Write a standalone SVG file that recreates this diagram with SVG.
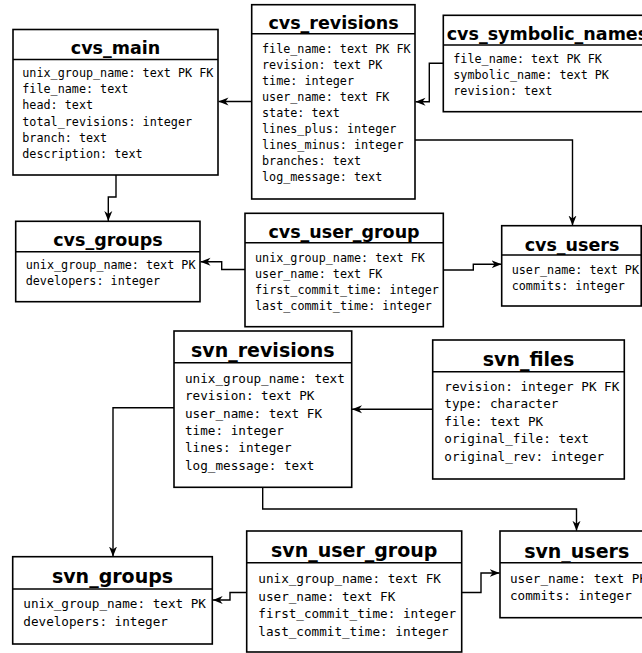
<svg xmlns="http://www.w3.org/2000/svg" width="642" height="653" viewBox="0 0 642 653">
<defs>
<style>
.box{fill:#fff;stroke:#000;stroke-width:1.6}
.sep{stroke:#000;stroke-width:1.4}
.t1{font-family:"DejaVu Sans",sans-serif;font-weight:bold;font-size:17.5px;text-anchor:middle;fill:#000}
.t2{font-family:"DejaVu Sans",sans-serif;font-weight:bold;font-size:19px;text-anchor:middle;fill:#000}
.f1{font-family:"DejaVu Sans Mono",monospace;font-size:11.75px;fill:#000}
.f2{font-family:"DejaVu Sans Mono",monospace;font-size:12.65px;fill:#000}
.c{fill:none;stroke:#000;stroke-width:1.4;marker-end:url(#arr)}
</style>
<marker id="arr" markerUnits="userSpaceOnUse" markerWidth="10" markerHeight="10" viewBox="0 0 10 10" refX="10" refY="5" orient="auto">
<path d="M0,1 L10,5 L0,9 L3,5 Z" fill="#000"/>
</marker>
</defs>
<rect width="642" height="653" fill="#fff"/>

<g id="connectors">
<path class="c" d="M443.3,63.3 H429.3 V101.7 H415.5"/>
<path class="c" d="M251.7,101.5 H218.5"/>
<path class="c" d="M415,140 H572.5 V225.5"/>
<path class="c" d="M116,175 V197 H108.3 V221"/>
<path class="c" d="M245,269.5 H221.7 V261.7 H200.5"/>
<path class="c" d="M443.3,270 H473.3 V264.3 H501.5"/>
<path class="c" d="M432.7,409.3 H352"/>
<path class="c" d="M174,407.7 H113 V556.5"/>
<path class="c" d="M262.7,487.3 V509 H576.5 V530.8"/>
<path class="c" d="M246.7,592.5 H230 V600 H212.7"/>
<path class="c" d="M461.7,592.5 H481 V573 H499.6"/>
</g>

<g id="cvs_main">
<rect class="box" x="13" y="29.5" width="205" height="145.5"/>
<line class="sep" x1="13" y1="59.5" x2="218" y2="59.5"/>
<text class="t1" x="115.5" y="54">cvs_main</text>
<text class="f1" x="22.3" y="77">unix_group_name: text PK FK</text>
<text class="f1" x="22.3" y="93.2">file_name: text</text>
<text class="f1" x="22.3" y="109.4">head: text</text>
<text class="f1" x="22.3" y="125.6">total_revisions: integer</text>
<text class="f1" x="22.3" y="141.8">branch: text</text>
<text class="f1" x="22.3" y="158">description: text</text>
</g>

<g id="cvs_revisions">
<rect class="box" x="251.7" y="4.7" width="163.3" height="194.3"/>
<line class="sep" x1="251.7" y1="33.7" x2="415" y2="33.7"/>
<text class="t1" x="333.5" y="29.3">cvs_revisions</text>
<text class="f1" x="262" y="52.5">file_name: text PK FK</text>
<text class="f1" x="262" y="68.6">revision: text PK</text>
<text class="f1" x="262" y="84.7">time: integer</text>
<text class="f1" x="262" y="100.8">user_name: text FK</text>
<text class="f1" x="262" y="116.9">state: text</text>
<text class="f1" x="262" y="133">lines_plus: integer</text>
<text class="f1" x="262" y="149.1">lines_minus: integer</text>
<text class="f1" x="262" y="165.2">branches: text</text>
<text class="f1" x="262" y="181.3">log_message: text</text>
</g>

<g id="cvs_symbolic_names">
<rect class="box" x="443.3" y="15.3" width="220" height="96.4"/>
<line class="sep" x1="443.3" y1="45" x2="663.3" y2="45"/>
<text class="t1" x="446.7" y="39.5" style="text-anchor:start">cvs_symbolic_names</text>
<text class="f1" x="453.3" y="63">file_name: text PK FK</text>
<text class="f1" x="453.3" y="79.2">symbolic_name: text PK</text>
<text class="f1" x="453.3" y="95.4">revision: text</text>
</g>

<g id="cvs_groups">
<rect class="box" x="15.7" y="221.3" width="184.3" height="80.4"/>
<line class="sep" x1="15.7" y1="251.7" x2="200" y2="251.7"/>
<text class="t1" x="108" y="245.7">cvs_groups</text>
<text class="f1" x="25.7" y="269">unix_group_name: text PK</text>
<text class="f1" x="25.7" y="285">developers: integer</text>
</g>

<g id="cvs_user_group">
<rect class="box" x="245" y="213.3" width="198.3" height="113.4"/>
<line class="sep" x1="245" y1="242.7" x2="443.3" y2="242.7"/>
<text class="t1" x="344" y="237.7">cvs_user_group</text>
<text class="f1" x="255" y="261.5">unix_group_name: text FK</text>
<text class="f1" x="255" y="277.6">user_name: text FK</text>
<text class="f1" x="255" y="293.7">first_commit_time: integer</text>
<text class="f1" x="255" y="309.8">last_commit_time: integer</text>
</g>

<g id="cvs_users">
<rect class="box" x="501.7" y="225.7" width="139.5" height="80.3"/>
<line class="sep" x1="501.7" y1="255" x2="641.2" y2="255"/>
<text class="t1" x="572" y="250.7">cvs_users</text>
<text class="f1" x="511.7" y="274">user_name: text PK</text>
<text class="f1" x="511.7" y="290">commits: integer</text>
</g>

<g id="svn_revisions">
<rect class="box" x="174" y="331" width="177.7" height="156.3"/>
<line class="sep" x1="174" y1="362.7" x2="351.7" y2="362.7"/>
<text class="t2" x="262.8" y="356.7">svn_revisions</text>
<text class="f2" x="185" y="382.7">unix_group_name: text</text>
<text class="f2" x="185" y="400.1">revision: text PK</text>
<text class="f2" x="185" y="417.5">user_name: text FK</text>
<text class="f2" x="185" y="434.9">time: integer</text>
<text class="f2" x="185" y="452.3">lines: integer</text>
<text class="f2" x="185" y="469.7">log_message: text</text>
</g>

<g id="svn_files">
<rect class="box" x="432.7" y="340" width="191.6" height="139"/>
<line class="sep" x1="432.7" y1="371.7" x2="624.3" y2="371.7"/>
<text class="t2" x="528.5" y="366">svn_files</text>
<text class="f2" x="444.3" y="391">revision: integer PK FK</text>
<text class="f2" x="444.3" y="408.4">type: character</text>
<text class="f2" x="444.3" y="425.8">file: text PK</text>
<text class="f2" x="444.3" y="443.2">original_file: text</text>
<text class="f2" x="444.3" y="460.6">original_rev: integer</text>
</g>

<g id="svn_groups">
<rect class="box" x="12.7" y="556.7" width="199.6" height="87.3"/>
<line class="sep" x1="12.7" y1="589" x2="212.3" y2="589"/>
<text class="t2" x="112.5" y="582.7">svn_groups</text>
<text class="f2" x="23.3" y="608.3">unix_group_name: text PK</text>
<text class="f2" x="23.3" y="625.7">developers: integer</text>
</g>

<g id="svn_user_group">
<rect class="box" x="246.7" y="531" width="215" height="121"/>
<line class="sep" x1="246.7" y1="562.7" x2="461.7" y2="562.7"/>
<text class="t2" x="354.2" y="557.3">svn_user_group</text>
<text class="f2" x="258.3" y="583.3">unix_group_name: text FK</text>
<text class="f2" x="258.3" y="600.7">user_name: text FK</text>
<text class="f2" x="258.3" y="618.1">first_commit_time: integer</text>
<text class="f2" x="258.3" y="635.5">last_commit_time: integer</text>
</g>

<g id="svn_users">
<rect class="box" x="500" y="531" width="160" height="86.7"/>
<line class="sep" x1="500" y1="562.7" x2="660" y2="562.7"/>
<text class="t2" x="576.7" y="558">svn_users</text>
<text class="f2" x="510" y="582.8">user_name: text PK</text>
<text class="f2" x="510" y="600.2">commits: integer</text>
</g>
</svg>
